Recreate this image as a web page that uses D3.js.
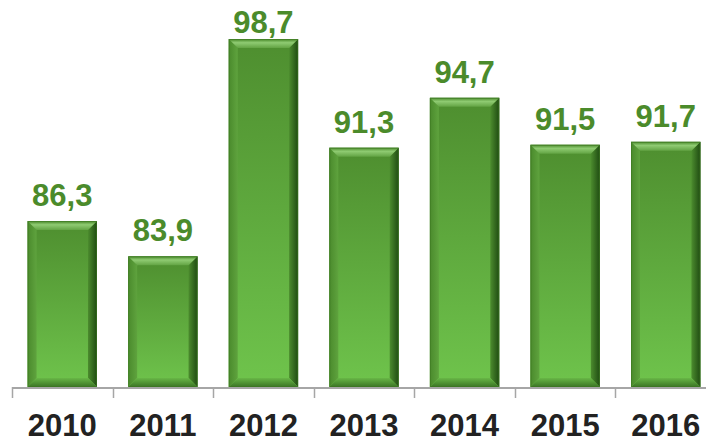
<!DOCTYPE html>
<html>
<head>
<meta charset="utf-8">
<script src="https://cdn.jsdelivr.net/npm/d3@7"></script>
<style>
  body { margin: 0; background: #fff; }
  svg { display: block; }
</style>
</head>
<body>
<div id="chart"></div>
<script>
// data
const years = ["2010", "2011", "2012", "2013", "2014", "2015", "2016"];
const values = [86.3, 83.9, 98.7, 91.3, 94.7, 91.5, 91.7];
const yDomain = [75, 100];

const width = 706, height = 440;
const baseY = 387;

const svg = d3.select("#chart").append("svg")
    .attr("width", width)
    .attr("height", height);

// scales
const x = d3.scaleBand()
    .domain(years)
    .range([12, 716])
    .paddingInner(0.31)
    .paddingOuter(0.155);

const y = d3.scaleLinear()
    .domain(yDomain)
    .range([baseY, 20]);

const defs = svg.append("defs");

function addGrad(id, horizontal, stops) {
    const g = defs.append("linearGradient")
        .attr("id", id)
        .attr("x1", 0).attr("y1", 0)
        .attr("x2", horizontal ? 1 : 0).attr("y2", horizontal ? 0 : 1);
    stops.forEach(s => g.append("stop").attr("offset", s[0]).attr("stop-color", s[1]));
}

// bar face + bevel gradients
addGrad("face", false, [["0%", "#4e8e2f"], ["100%", "#6fc44c"]]);
addGrad("topBevel", false, [["0%", "#4a8a2b"], ["40%", "#8fcb72"], ["100%", "#62a343"]]);
addGrad("rightBevel", true, [["0%", "#4c8c2e"], ["100%", "#1f4b12"]]);
addGrad("bottomBevel", false, [["0%", "#68b646"], ["100%", "#3a7424"]]);
addGrad("leftBevel", true, [["0%", "#4a8a2c"], ["100%", "#5fa33e"]]);

// axis line + ticks at band boundaries
const axisG = svg.append("g").attr("class", "x-axis");
axisG.append("line")
    .attr("x1", x.range()[0]).attr("x2", x.range()[1])
    .attr("y1", baseY + 1).attr("y2", baseY + 1)
    .attr("stroke", "#a6a6a6").attr("stroke-width", 2);

const bounds = years.map(d => x(d) - x.step() * x.paddingInner() / 2);
bounds.push(x.range()[1]);
axisG.selectAll(".tick")
    .data(bounds)
    .enter().append("line")
    .attr("class", "tick")
    .attr("x1", d => Math.round(d) + 0.5).attr("x2", d => Math.round(d) + 0.5)
    .attr("y1", baseY).attr("y2", baseY + 11)
    .attr("stroke", "#a6a6a6").attr("stroke-width", 1.5);

// bars
const b = 9;
const bars = svg.selectAll(".bar")
    .data(values.map((v, i) => ({ year: years[i], value: v })))
    .enter().append("g")
    .attr("class", "bar");

bars.append("rect")
    .attr("x", d => x(d.year))
    .attr("y", d => y(d.value))
    .attr("width", x.bandwidth())
    .attr("height", d => baseY - y(d.value))
    .attr("fill", "url(#face)");

function poly(pts) { return "M" + pts.map(p => p.join(",")).join("L") + "Z"; }

// bevel edges
bars.append("path")  // left
    .attr("d", d => {
        const x0 = x(d.year), y0 = y(d.value), y1 = baseY;
        return poly([[x0, y0], [x0 + b, y0 + b], [x0 + b, y1 - b], [x0, y1]]);
    })
    .attr("fill", "url(#leftBevel)");

bars.append("path")  // right
    .attr("d", d => {
        const x1 = x(d.year) + x.bandwidth(), y0 = y(d.value), y1 = baseY;
        return poly([[x1, y0], [x1, y1], [x1 - b, y1 - b], [x1 - b, y0 + b]]);
    })
    .attr("fill", "url(#rightBevel)");

bars.append("path")  // bottom
    .attr("d", d => {
        const x0 = x(d.year), x1 = x0 + x.bandwidth(), y1 = baseY;
        return poly([[x0, y1], [x0 + b, y1 - b], [x1 - b, y1 - b], [x1, y1]]);
    })
    .attr("fill", "url(#bottomBevel)");

bars.append("path")  // top
    .attr("d", d => {
        const x0 = x(d.year), x1 = x0 + x.bandwidth(), y0 = y(d.value);
        return poly([[x0, y0], [x1, y0], [x1 - b, y0 + b], [x0 + b, y0 + b]]);
    })
    .attr("fill", "url(#topBevel)");

bars.append("rect")  // thin outline
    .attr("x", d => x(d.year) + 0.5)
    .attr("y", d => y(d.value) + 0.5)
    .attr("width", x.bandwidth() - 1)
    .attr("height", d => baseY - y(d.value) - 1)
    .attr("fill", "none")
    .attr("stroke", "#3c7622")
    .attr("stroke-opacity", 0.6)
    .attr("stroke-width", 1);

// value labels
bars.append("text")
    .attr("x", d => x(d.year) + x.bandwidth() / 2)
    .attr("y", d => Math.max(y(d.value) - 15, 33))
    .attr("text-anchor", "middle")
    .style("font-family", "'Liberation Sans', Arial, sans-serif")
    .style("font-weight", "bold")
    .style("font-size", "31px")
    .style("fill", "#4b8b2b")
    .text(d => d3.format(".1f")(d.value).replace(".", ","));

// year labels
svg.selectAll(".year-label")
    .data(years)
    .enter().append("text")
    .attr("class", "year-label")
    .attr("x", d => x(d) + x.bandwidth() / 2)
    .attr("y", 436)
    .attr("text-anchor", "middle")
    .style("font-family", "'Liberation Sans', Arial, sans-serif")
    .style("font-weight", "bold")
    .style("font-size", "31px")
    .style("fill", "#222")
    .text(d => d);
</script>
</body>
</html>
